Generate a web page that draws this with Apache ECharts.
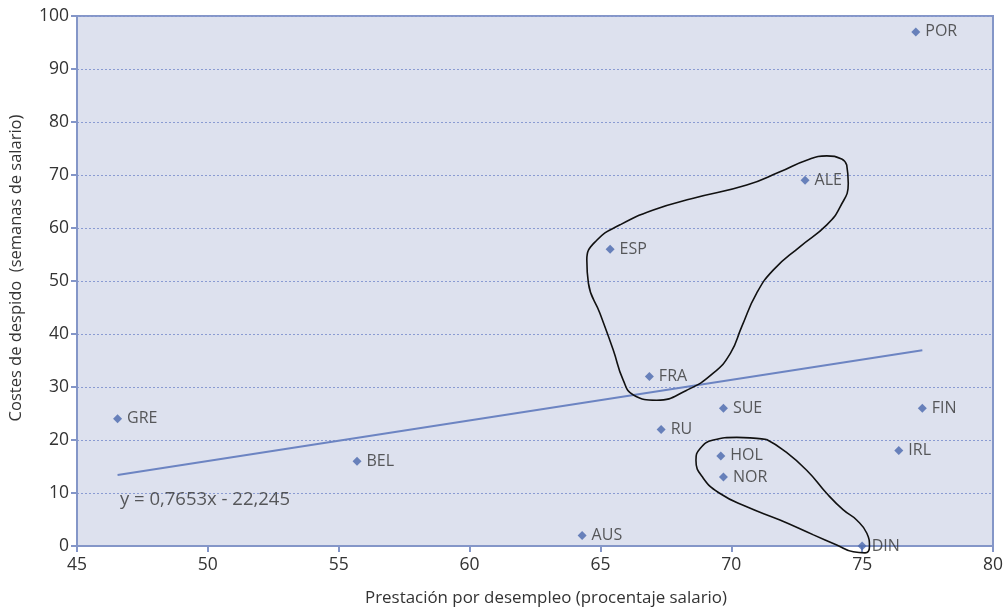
<!DOCTYPE html>
<html>
<head>
<meta charset="utf-8">
<script src="https://cdn.jsdelivr.net/npm/echarts@6/dist/echarts.min.js"></script>
<style>
  html, body { margin: 0; padding: 0; background: #ffffff; }
  #chart { width: 1008px; height: 613px; }
</style>
</head>
<body>
<div id="chart"></div>
<script>
// Countries: unemployment benefit (% of salary) vs. dismissal costs (weeks of salary)
const countries = ['GRE', 'BEL', 'AUS', 'ESP', 'FRA', 'RU', 'SUE', 'HOL', 'NOR', 'ALE', 'DIN', 'IRL', 'FIN', 'POR'];
const benefit   = [46.55, 55.7, 64.3, 65.37, 66.87, 67.32, 69.7, 69.6, 69.7, 72.82, 75.0, 76.4, 77.3, 77.05];
const dismissal = [24, 16, 2, 56, 32, 22, 26, 17, 13, 69, 0, 18, 26, 97];

// Linear fit shown on the chart
const slope = 0.7653;
const intercept = -22.245;
const trendLabel = 'y = 0,7653x - 22,245';

// Hand-drawn outlines grouping countries (data coordinates)
const loopNorthX = [74.41, 74.47, 74.16, 73.65, 72.63, 71.61, 70.97, 70.40, 69.97, 69.31, 68.30, 67.15, 66.26, 65.87, 65.49, 64.98, 64.54, 64.48, 64.86, 65.75, 67.02, 68.55, 70.59, 71.86, 72.88, 73.65, 74.22, 74.41];
const loopNorthY = [71.9, 68.4, 64.0, 60.6, 56.5, 52.1, 47.7, 41.4, 36.4, 32.6, 29.4, 27.5, 28.5, 31.3, 37.0, 43.9, 49.6, 54.0, 57.7, 60.6, 63.4, 65.6, 68.1, 70.6, 72.8, 73.6, 73.0, 71.9];
const loopSouthX = [71.35, 71.99, 72.88, 73.65, 74.28, 74.79, 75.18, 75.28, 75.11, 74.66, 74.03, 73.14, 71.86, 70.59, 69.57, 68.93, 68.65, 68.81, 69.31, 70.21, 70.97, 71.35];
const loopSouthY = [20.1, 18.1, 14.3, 9.9, 6.8, 4.9, 2.4, -0.1, -1.3, -1.1, 0.2, 2.1, 4.9, 7.4, 9.9, 12.8, 16.2, 18.4, 20.0, 20.5, 20.3, 20.1];

const xTicks = { min: 45, max: 80, interval: 5 };
const yTicks = { min: 0, max: 100, interval: 10 };

const pts = countries.map((c, i) => ({ name: c, value: [benefit[i], dismissal[i]] }));
const xMin = Math.min(...benefit), xMax = Math.max(...benefit);
const trend = [[xMin, slope * xMin + intercept], [xMax, slope * xMax + intercept]];
const zip = (xs, ys) => xs.map((x, i) => [x, ys[i]]);

const font = 'Open Sans';
const ink = '#333333';
const axisBlue = '#8496c8';

const chart = echarts.init(document.getElementById('chart'));
chart.setOption({
  animation: false,
  textStyle: { fontFamily: font },
  grid: {
    left: 77, right: 15, top: 16, bottom: 67,
    show: true, backgroundColor: '#dde1ee', borderColor: axisBlue, borderWidth: 2
  },
  xAxis: {
    type: 'value', min: xTicks.min, max: xTicks.max, interval: xTicks.interval,
    name: 'Prestación por desempleo (procentaje salario)',
    nameLocation: 'middle', nameGap: 44,
    nameTextStyle: { fontSize: 16.9, color: ink, fontFamily: font, padding: [0, 0, 0, 22] },
    axisLine: { show: true, lineStyle: { color: axisBlue, width: 2 } },
    axisTick: { show: true, length: 6, lineStyle: { color: axisBlue, width: 2 } },
    axisLabel: { fontSize: 17.5, color: ink, margin: 10 },
    splitLine: { show: false }
  },
  yAxis: {
    type: 'value', min: yTicks.min, max: yTicks.max, interval: yTicks.interval,
    name: 'Costes de despido  (semanas de salario)',
    nameLocation: 'middle', nameGap: 52,
    nameTextStyle: { fontSize: 16.5, color: ink, fontFamily: font, padding: [0, 0, 0, 26] },
    axisLine: { show: true, lineStyle: { color: axisBlue, width: 2 } },
    axisTick: { show: true, length: 6, lineStyle: { color: axisBlue, width: 2 } },
    axisLabel: { fontSize: 17.5, color: ink, margin: 8 },
    splitLine: { show: true, lineStyle: { color: '#8a9bd2', type: [2, 2], width: 1 } }
  },
  series: [
    {
      type: 'line', data: trend, symbol: 'none', silent: true,
      lineStyle: { color: '#6c84c2', width: 2 }, z: 2
    },
    {
      type: 'line', data: zip(loopNorthX, loopNorthY), symbol: 'none', smooth: 0.5, clip: false,
      lineStyle: { color: '#111', width: 1.6 }, z: 3
    },
    {
      type: 'line', data: zip(loopSouthX, loopSouthY), symbol: 'none', smooth: 0.5, clip: false,
      lineStyle: { color: '#111', width: 1.6 }, z: 3
    },
    {
      type: 'scatter', data: pts, symbol: 'diamond', symbolSize: 9, clip: false,
      itemStyle: { color: '#4a68ac' }, z: 4,
      label: {
        show: true, position: 'right', distance: 5, formatter: '{b}',
        fontSize: 16, color: ink, fontFamily: font
      }
    },
    {
      type: 'scatter', data: [[46.64, 8.7]], symbolSize: 0, silent: true, z: 4,
      label: {
        show: true, position: [0, 0], align: 'left', verticalAlign: 'middle',
        formatter: trendLabel, fontSize: 18.5, color: ink, fontFamily: font
      }
    }
  ]
});
</script>
</body>
</html>
